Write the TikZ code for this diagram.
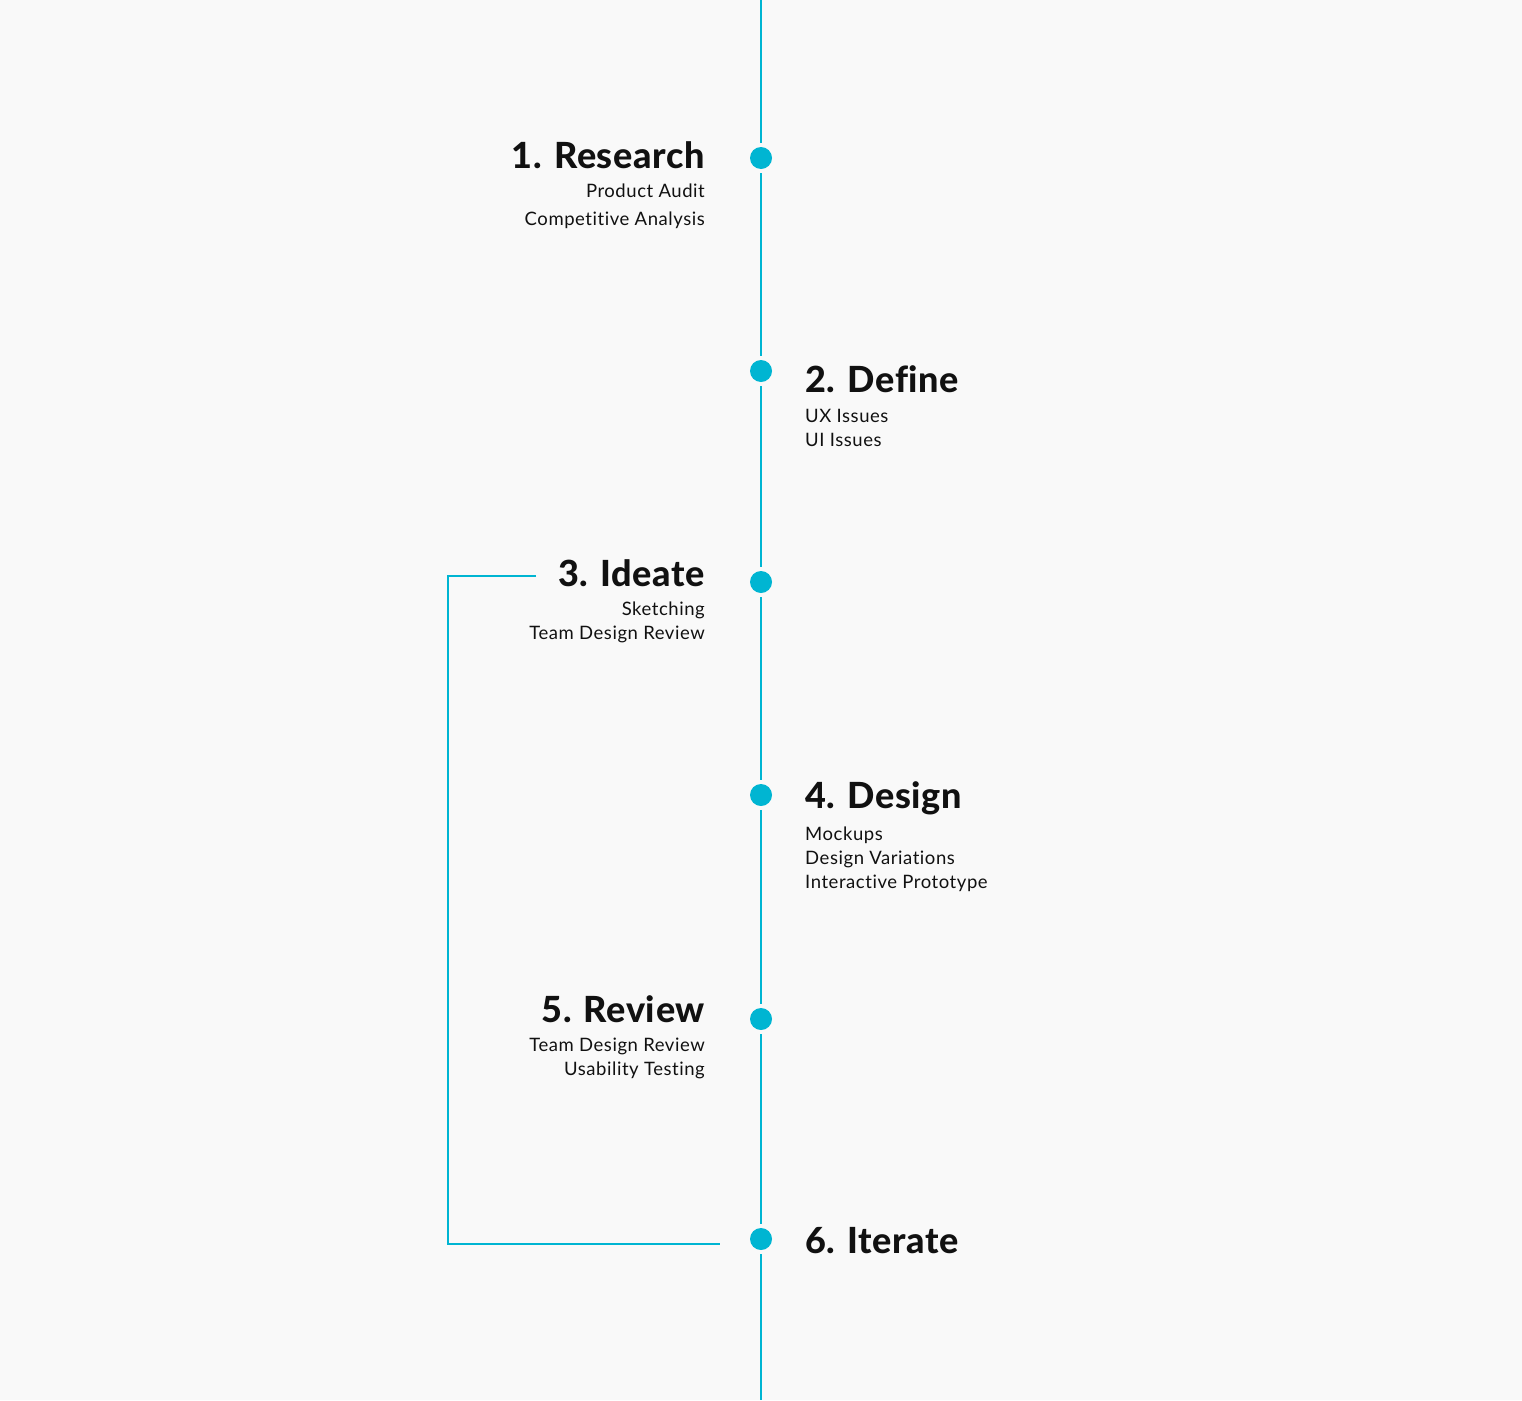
\documentclass[tikz,border=0pt]{standalone}
\usepackage{fontspec}
\setmainfont{Lato}[Ligatures=NoCommon]
\newfontfamily\titlefont{Lato Heavy}[Ligatures=NoCommon,LetterSpace=1.8]
\newfontfamily\subfont{Lato}[Ligatures=NoCommon,LetterSpace=3]
\definecolor{bg}{RGB}{249,249,249}
\definecolor{cyanline}{RGB}{0,181,210}
\definecolor{ink}{RGB}{17,17,17}
\begin{document}
\begin{tikzpicture}[x=1pt,y=-1pt,
  dot/.style={circle,fill=cyanline,minimum size=22pt,inner sep=0pt,outer sep=4pt},
  conn/.style={draw=cyanline,line width=2pt},
  ttl/.style={font=\titlefont\fontsize{36}{40}\selectfont,text=ink,inner sep=0pt},
  sub/.style={font=\subfont\fontsize{18.5}{24}\selectfont,text=ink,inner sep=0pt}]
\fill[bg] (0,0) rectangle (1522,1400);
\useasboundingbox (0,0) rectangle (1522,1400);
% timeline
\coordinate (top) at (761,0);
\coordinate (bot) at (761,1400);
\node[dot] (d1) at (761,158) {};
\node[dot] (d2) at (761,371) {};
\node[dot] (d3) at (761,582) {};
\node[dot] (d4) at (761,795) {};
\node[dot] (d5) at (761,1019) {};
\node[dot] (d6) at (761,1239) {};
\draw[conn] (top) -- (d1);
\draw[conn] (d1) -- (d2);
\draw[conn] (d2) -- (d3);
\draw[conn] (d3) -- (d4);
\draw[conn] (d4) -- (d5);
\draw[conn] (d5) -- (d6);
\draw[conn] (d6) -- (bot);
% bracket
\coordinate (b1) at (536,576);
\coordinate (b2) at (448,576);
\coordinate (b3) at (448,1244);
\coordinate (b4) at (720,1244);
\draw[conn] (b1) -- (b2) -- (b3) -- (b4);
% 1
\node[ttl,anchor=base east] (t1) at (705,168) {1. Research};
\node[sub,anchor=base east] (s1a) at (705,197) {Product Audit};
\node[sub,anchor=base east] (s1b) at (705,225) {Competitive Analysis};
% 2
\node[ttl,anchor=base west] (t2) at (805,392) {2. Define};
\node[sub,anchor=base west] (s2a) at (805,422) {UX Issues};
\node[sub,anchor=base west] (s2b) at (805,446) {UI Issues};
% 3
\node[ttl,anchor=base east] (t3) at (705,586) {3. Ideate};
\node[sub,anchor=base east] (s3a) at (705,615) {Sketching};
\node[sub,anchor=base east] (s3b) at (705,639) {Team Design Review};
% 4
\node[ttl,anchor=base west] (t4) at (805,808) {4. Design};
\node[sub,anchor=base west] (s4a) at (805,840) {Mockups};
\node[sub,anchor=base west] (s4b) at (805,864) {Design Variations};
\node[sub,anchor=base west] (s4c) at (805,888) {Interactive Prototype};
% 5
\node[ttl,anchor=base east] (t5) at (705,1022) {5. Review};
\node[sub,anchor=base east] (s5a) at (705,1051) {Team Design Review};
\node[sub,anchor=base east] (s5b) at (705,1075) {Usability Testing};
% 6
\node[ttl,anchor=base west] (t6) at (805,1253) {6. Iterate};
\end{tikzpicture}
\end{document}
